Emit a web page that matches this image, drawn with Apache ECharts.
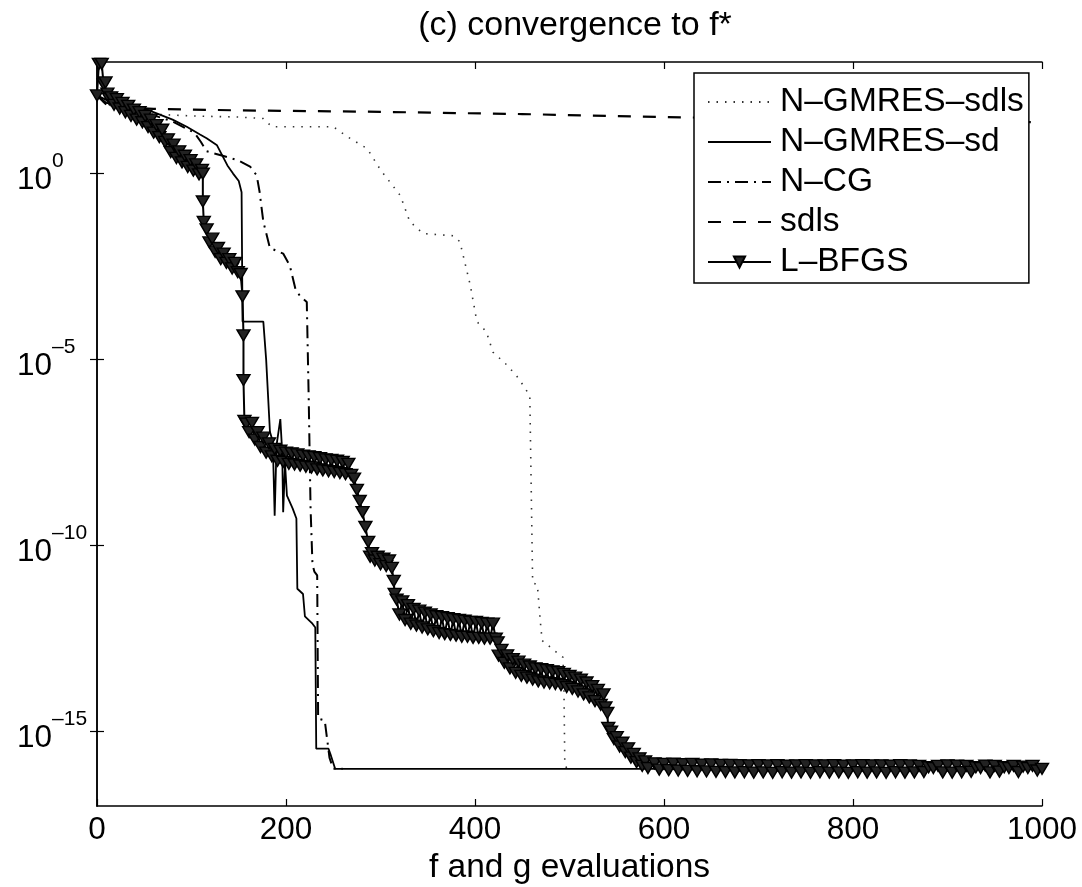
<!DOCTYPE html>
<html>
<head>
<meta charset="utf-8">
<title>(c) convergence to f*</title>
<script src="https://cdn.jsdelivr.net/npm/echarts@6/dist/echarts.min.js"></script>
<style>
    html, body { margin: 0; padding: 0; background: #fff; }
    #chart { width: 1082px; height: 887px; }
</style>
</head>
<body>
<div id="chart"></div>
<script>
// ticks
var xTicks = [0, 200, 400, 600, 800, 1000];
var yTicks = [1e-15, 1e-10, 1e-5, 1];

// N-GMRES-sdls (dotted)
var ngsdlsX = [0, 10, 30, 56, 100, 150, 176, 185, 250, 265, 286, 300, 321, 331, 345, 377, 384, 395, 402, 412, 419, 434, 446, 458, 461, 466, 469, 471, 483, 493, 494, 495, 497];
var ngsdlsY = [126, 70.8, 56.2, 39.8, 35.5, 33.1, 30.2, 18.2, 18.2, 9.77, 4.68, 1.26, 0.257, 0.0513, 0.0245, 0.0214, 0.0148, 1e-3, 1.05e-4, 5.62e-5, 1.58e-5, 7.08e-6, 3.16e-6, 1.07e-6, 1e-11, 8.91e-12, 1e-12, 2.82e-13, 1.58e-13, 1e-13, 2.51e-14, 1.58e-16, 1e-16];

// N-GMRES-sd (solid)
var ngsdX = [0, 10, 30, 53, 80, 95, 109, 116, 127, 138, 144, 150, 153, 154, 176, 179, 183, 186, 188, 190, 194, 196, 197, 199, 201, 207, 211, 212, 218, 220, 228, 231, 232, 245, 247, 252, 1000];
var ngsdY = [126, 79.4, 63.1, 52.5, 28.2, 18.2, 11.2, 8.91, 5.75, 1.66, 1, 0.631, 0.316, 1.05e-4, 1.05e-4, 1e-5, 1.15e-7, 6.31e-8, 6.31e-10, 5.01e-8, 2.51e-7, 3.16e-8, 7.94e-10, 1.58e-8, 2.19e-9, 1e-9, 5.37e-10, 6.92e-12, 5.01e-12, 1.26e-12, 7.94e-13, 6.31e-13, 3.47e-16, 3.47e-16, 2.51e-16, 1e-16, 1e-16];

// N-CG (dash-dot)
var ncgX = [0, 20, 50, 80, 103, 110, 116, 133, 150, 162, 169, 172, 176, 183, 197, 204, 210, 215, 222, 224, 226, 228, 230, 233, 234, 241, 246, 250, 260];
var ncgY = [126, 70.8, 44.7, 25.1, 12.6, 7.08, 3.98, 3.02, 2.24, 1.55, 0.891, 0.331, 0.0513, 0.01, 7.08e-3, 3.39e-3, 7.94e-4, 5.01e-4, 3.55e-4, 1e-6, 1e-9, 3.16e-11, 2e-11, 1.58e-11, 2.24e-15, 2e-15, 2e-16, 1e-16, 1e-16];

// sdls (dashed)
var sdlsX = [0, 10, 30, 60, 150, 300, 450, 600, 750, 900, 1000];
var sdlsY = [126, 70.8, 58.9, 55, 50.1, 45.7, 39.8, 33.1, 28.8, 26.3, 24];

// L-BFGS (line with triangles), one row per stretch of the curve
var lbfgsX = [
    0, 2, 5, 7, 9, 11, 13, 15, 18, 21, 24, 27, 30, 33, 36, 39, 42, 45, 48, 51, 54, 57, 60, 63, 66, 69, 72, 75, 78, 81, 84, 87, 90, 93, 96, 99, 102, 105, 108, 111, 112,
    112, 113, 116, 119, 122, 125, 128, 131, 134, 137, 140, 143, 146, 149, 152, 154, 155, 155, 156,
    158, 161, 164, 167, 170, 173, 176, 179, 182, 185, 188, 191, 194, 197, 200, 203, 206, 209, 212, 215, 218, 221, 224, 227, 230, 233, 236, 239, 242, 245, 248, 251, 254, 257, 260, 263, 266, 269, 272, 275, 278, 281, 284, 287, 289,
    291, 294, 297, 300, 303, 306, 309, 312, 314, 315, 317, 320, 323, 326, 329, 332, 335, 338, 341, 344, 347, 350, 353, 356, 359, 362, 365, 368, 371, 374, 377, 380, 383, 386, 389, 392, 395, 398, 401, 404, 407, 410, 413, 416, 419, 422,
    424, 425, 428, 431, 434, 437, 440, 443, 446, 449, 452, 455, 458, 461, 464, 467, 470, 473, 476, 479, 482, 485, 488, 491, 494, 497, 500, 503, 506, 509, 512, 515, 518, 521, 524, 527, 530, 533, 536, 538, 540, 541, 544, 547, 550, 553, 556, 559, 562, 565, 568, 571, 574, 577, 580, 583,
    590, 595, 600, 605, 610, 615, 620, 625, 630, 635,
    640, 645, 650, 655, 660, 665, 670, 675, 680, 685,
    690, 695, 700, 705, 710, 715, 720, 725, 730, 735,
    740, 745, 750, 755, 760, 765, 770, 775, 780, 785,
    790, 795, 800, 805, 810, 815, 820, 825, 830, 835,
    840, 845, 850, 855, 860, 865, 870, 875, 880, 885,
    890, 895, 900, 905, 910, 915, 920, 925, 930, 935,
    940, 945, 950, 955, 960, 965, 970, 975, 980, 985,
    990, 995, 1000
];
var lbfgsY = [
    126, 891, 891, 251, 282, 141, 100, 112, 70.8, 100, 56.2, 79.4, 44.7, 66.1, 35.5, 52.5, 28.2, 44.7, 24.0, 35.5, 17.8, 28.2, 12.6, 20.0, 9.55, 15.1, 7.08, 8.32, 3.80, 6.03, 2.63, 3.98, 2.0, 3.02, 1.51, 2.29, 1.2, 1.78, 0.955, 1.26, 1.0,
    0.178, 0.0501, 0.0316, 0.0141, 0.0178, 7.94e-3, 0.01, 5.01e-3, 7.08e-3, 3.98e-3, 5.01e-3, 2.82e-3, 3.98e-3, 2.24e-3, 2.0e-3, 5.01e-4, 4.47e-5, 2.82e-6, 2.24e-7,
    1.91e-7, 1.12e-7, 2.0e-7, 7.08e-8, 1.12e-7, 4.47e-8, 7.94e-8, 3.16e-8, 5.62e-8, 2.51e-8, 3.98e-8, 1.91e-8, 3.55e-8, 1.78e-8, 3.16e-8, 1.58e-8, 3.02e-8, 1.51e-8, 2.82e-8, 1.41e-8, 2.63e-8, 1.32e-8, 2.51e-8, 1.26e-8, 2.40e-8, 1.12e-8, 2.24e-8, 1.05e-8, 2.09e-8, 1e-8, 2.0e-8, 9.55e-9, 1.91e-8, 8.91e-9, 1.78e-8, 8.32e-9, 1.58e-8, 7.94e-9, 6.31e-9, 3.16e-9, 1.58e-9, 7.94e-10, 3.16e-10, 1.26e-10, 5.01e-11,
    6.31e-11, 3.98e-11, 5.01e-11, 3.16e-11, 4.47e-11, 2.82e-11, 3.98e-11, 2.51e-11, 1.12e-11, 5.01e-12, 3.55e-12, 1.41e-12, 3.16e-12, 1e-12, 2.51e-12, 7.94e-13, 2.0e-12, 7.08e-13, 1.78e-12, 6.31e-13, 1.58e-12, 5.62e-13, 1.41e-12, 5.01e-13, 1.26e-12, 4.47e-13, 1.2e-12, 4.17e-13, 1.12e-12, 3.98e-13, 1.05e-12, 3.80e-13, 1e-12, 3.55e-13, 9.55e-13, 3.55e-13, 8.91e-13, 3.31e-13, 8.91e-13, 3.31e-13, 8.32e-13, 3.16e-13, 7.94e-13, 3.16e-13, 7.94e-13, 3.16e-13,
    2.51e-13, 1.1e-13, 1.58e-13, 7.08e-14, 1.12e-13, 5.01e-14, 8.91e-14, 3.80e-14, 7.59e-14, 3.16e-14, 6.31e-14, 2.82e-14, 5.62e-14, 2.51e-14, 5.01e-14, 2.24e-14, 4.79e-14, 2.09e-14, 4.47e-14, 2.0e-14, 4.17e-14, 1.91e-14, 3.98e-14, 1.78e-14, 3.55e-14, 1.58e-14, 3.16e-14, 1.41e-14, 2.82e-14, 1.2e-14, 2.51e-14, 1e-14, 2.09e-14, 8.32e-15, 1.66e-14, 6.61e-15, 1.32e-14, 5.25e-15, 1e-14, 4.47e-15, 3.16e-15, 1.26e-15, 1e-15, 6.31e-16, 7.08e-16, 3.98e-16, 5.01e-16, 2.82e-16, 3.55e-16, 2.0e-16, 2.51e-16, 1.51e-16, 1.91e-16, 1.2e-16, 1.58e-16, 1.05e-16,
    1.4e-16, 9.5e-17, 1.36e-16, 9.2e-17, 1.38e-16, 9.0e-17, 1.33e-16, 8.8e-17, 1.35e-16, 8.6e-17,
    1.3e-16, 8.5e-17, 1.32e-16, 8.3e-17, 1.28e-16, 8.2e-17, 1.27e-16, 8.0e-17, 1.25e-16, 8.1e-17,
    1.24e-16, 7.9e-17, 1.26e-16, 8.0e-17, 1.23e-16, 7.8e-17, 1.25e-16, 8.1e-17, 1.22e-16, 7.9e-17,
    1.24e-16, 8.0e-17, 1.25e-16, 7.8e-17, 1.23e-16, 8.1e-17, 1.24e-16, 7.9e-17, 1.25e-16, 8.0e-17,
    1.22e-16, 7.8e-17, 1.24e-16, 8.1e-17, 1.25e-16, 7.9e-17, 1.23e-16, 8.0e-17, 1.24e-16, 7.8e-17,
    1.22e-16, 8.1e-17, 1.25e-16, 7.9e-17, 1.23e-16, 8.0e-17, 1.2e-16, 8.2e-17, 1.1e-16, 1.05e-16,
    1.2e-16, 8.0e-17, 1.24e-16, 7.9e-17, 1.22e-16, 8.1e-17, 1.2e-16, 8.3e-17, 1.1e-16, 1.05e-16,
    1.22e-16, 8.0e-17, 1.2e-16, 8.4e-17, 1.1e-16, 1.05e-16, 1.2e-16, 8.2e-17, 1.15e-16, 1.05e-16,
    1.2e-16, 9.0e-17, 1.0e-16
];

var seriesNames = ['N–GMRES–sdls', 'N–GMRES–sd', 'N–CG', 'sdls', 'L–BFGS'];

function pairs(xs, ys) {
    var out = [];
    var n = Math.min(xs.length, ys.length);
    for (var i = 0; i < n; i++) out.push([xs[i], ys[i]]);
    return out;
}

var FONT = '"Liberation Sans", Arial, Helvetica, sans-serif';

var chart = echarts.init(document.getElementById('chart'), null, { renderer: 'canvas' });

function lineSeries(name, data, lineStyle) {
    return {
        name: name,
        type: 'line',
        data: data,
        symbol: 'none',
        showSymbol: false,
        silent: true,
        clip: true,
        lineStyle: lineStyle,
        itemStyle: { color: '#000', opacity: 0 },   // no marker, also hides the legend dot
        emphasis: { disabled: true }
    };
}

var frameAxisLine = { show: true, lineStyle: { color: '#000', width: 1.5 } };
var frameTick = { show: true, inside: true, length: 7, lineStyle: { color: '#000', width: 1.2 } };

var option = {
    animation: false,
    backgroundColor: '#fff',
    title: {
        text: '(c) convergence to f*',
        left: 570,
        textAlign: 'center',
        top: 4,
        textStyle: { fontFamily: FONT, fontSize: 34, fontWeight: 'normal', color: '#000' }
    },
    legend: {
        orient: 'vertical',
        left: 694,
        top: 73,
        data: seriesNames,
        itemWidth: 63,
        itemHeight: 14,
        itemGap: 4,
        padding: [11, 5, 3, 13],
        backgroundColor: '#fff',
        borderColor: '#000',
        borderWidth: 1.5,
        textStyle: { fontFamily: FONT, fontSize: 33.5, color: '#000', lineHeight: 36, padding: [0, 0, 0, 4] }
    },
    grid: { left: 97, right: 40, top: 62, bottom: 81, containLabel: false, outerBoundsMode: 'none' },
    xAxis: [{
        type: 'value',
        min: 0, max: 1000, interval: 200,
        name: 'f and g evaluations',
        nameLocation: 'middle',
        nameGap: 43,
        nameTextStyle: { fontFamily: FONT, fontSize: 33.5, color: '#000' },
        axisLine: frameAxisLine,
        axisTick: frameTick,
        axisLabel: {
            fontFamily: FONT, fontSize: 31.5, color: '#000', margin: 8,
            formatter: function (v) { return String(v); }
        },
        splitLine: { show: false }
    }, {
        type: 'value',
        position: 'top',
        min: 0, max: 1000, interval: 200,
        axisLine: frameAxisLine,
        axisTick: frameTick,
        axisLabel: { show: false },
        splitLine: { show: false }
    }],
    yAxis: [{
        type: 'log',
        logBase: 10,
        min: 1e-17, max: 1e3,
        axisLine: frameAxisLine,
        axisTick: { show: true, inside: true, length: 7, lineStyle: { color: '#000', width: 1.2 }, customValues: yTicks },
        axisLabel: {
            customValues: yTicks,
            align: 'left',
            margin: 80,
            formatter: function (v) {
                var p = Math.round(Math.log(v) / Math.LN10);
                return '{b|10}{s|' + (p < 0 ? '–' + (-p) : p) + '}';
            },
            rich: {
                b: { fontFamily: FONT, fontSize: 31.5, color: '#000', padding: [14, 0, 0, 0] },
                s: { fontFamily: FONT, fontSize: 21, color: '#000', verticalAlign: 'top' }
            }
        },
        splitLine: { show: false },
        minorTick: { show: false }
    }, {
        type: 'log',
        logBase: 10,
        position: 'right',
        min: 1e-17, max: 1e3,
        axisLine: frameAxisLine,
        axisTick: { show: true, inside: true, length: 7, lineStyle: { color: '#000', width: 1.2 }, customValues: yTicks },
        axisLabel: { show: false },
        splitLine: { show: false }
    }],
    series: [
        lineSeries(seriesNames[0], pairs(ngsdlsX, ngsdlsY), { color: '#333', width: 1.6, type: [1.5, 7] }),
        lineSeries(seriesNames[1], pairs(ngsdX, ngsdY), { color: '#000', width: 1.8, type: 'solid' }),
        lineSeries(seriesNames[2], pairs(ncgX, ncgY), { color: '#000', width: 2, type: [13, 6, 2, 6] }),
        lineSeries(seriesNames[3], pairs(sdlsX, sdlsY), { color: '#000', width: 2.2, type: [13, 12] }),
        {
            name: seriesNames[4],
            type: 'line',
            data: pairs(lbfgsX, lbfgsY),
            symbol: 'triangle',
            symbolRotate: 180,
            symbolSize: [13, 11],
            showSymbol: true,
            showAllSymbol: true,
            silent: true,
            clip: true,
            lineStyle: { color: '#000', width: 2 },
            itemStyle: { color: '#222', borderColor: '#000', borderWidth: 1.4 },
            emphasis: { disabled: true }
        }
    ]
};

chart.setOption(option);
window.onresize = chart.resize;
</script>
</body>
</html>
